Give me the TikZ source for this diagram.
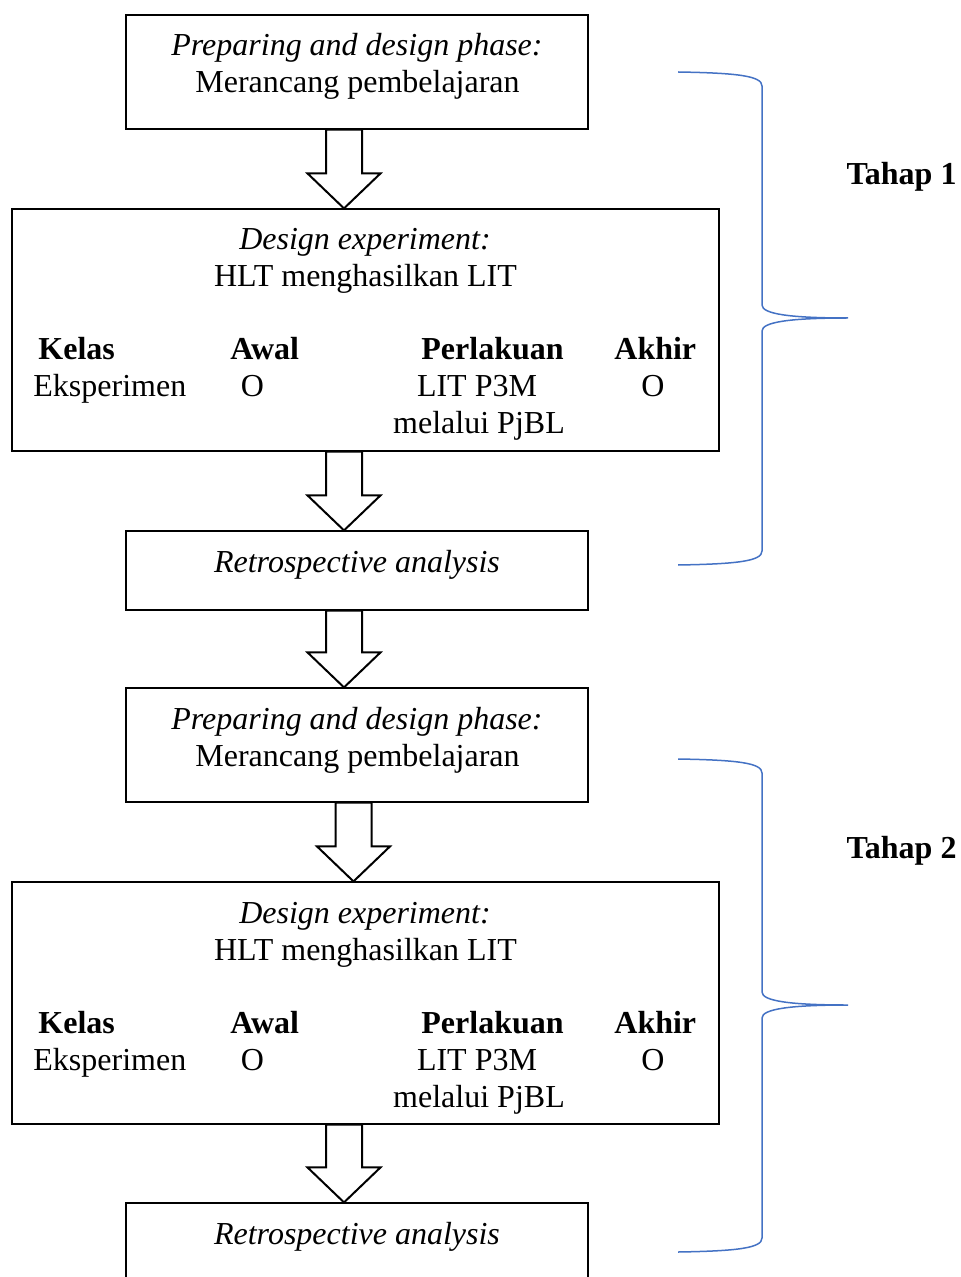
\documentclass[tikz,border=0pt]{standalone}
\usepackage{fontspec}
\setmainfont{Liberation Serif}
\usetikzlibrary{calc}
\definecolor{braceblue}{HTML}{4472C4}
\newcommand\blockarrow[3]{% #1 centre coordinate, #2 upper node, #3 lower node
  \draw[barrow] ($(#1|-#2.south)+(-18,0)$) -- ($(#1|-#3.north)+(-18,-35)$)
    -- ($(#1|-#3.north)+(-36.5,-35)$) -- (#1|-#3.north)
    -- ($(#1|-#3.north)+(36.5,-35)$) -- ($(#1|-#3.north)+(18,-35)$)
    -- ($(#1|-#2.south)+(18,0)$) -- cycle;}
\begin{document}
\begin{tikzpicture}[x=0.5pt,y=-0.5pt,
  font=\fontsize{16pt}{18.5pt}\selectfont,
  box/.style={draw, line width=0.6pt, inner sep=0pt},
  txt/.style={inner sep=0pt, anchor=base},
  txtl/.style={inner sep=0pt, anchor=base west},
  barrow/.style={draw, fill=white, line width=1pt, line join=miter},
  bracestyle/.style={draw=braceblue, line width=0.75pt},
  tbrace/.pic={\draw[bracestyle] (678,72) .. controls (738,73) and (762,76) .. (762,86)
      -- (762,305) .. controls (762,314) and (790,318) .. (848,318)
      .. controls (790,318) and (762,322) .. (762,331)
      -- (762,551) .. controls (762,561) and (738,564) .. (678,565);}]
\useasboundingbox (0,0) rectangle (961,1277);

% boxes
\node[box, minimum width=231pt, minimum height=57pt] (b1) at (357,72) {};
\node[box, minimum width=353.5pt, minimum height=121pt] (b2) at (365.5,330) {};
\node[box, minimum width=231pt, minimum height=39.5pt] (b3) at (357,570.5) {};
\node[box, minimum width=231pt, minimum height=57pt] (b4) at (357,745) {};
\node[box, minimum width=353.5pt, minimum height=121pt] (b5) at (365.5,1003) {};
\node[box, minimum width=231pt, minimum height=43.5pt] (b6) at (357,1246.5) {};

% arrow centres
\coordinate (a1) at (344,0);
\coordinate (a2) at (344,0);
\coordinate (a3) at (344,0);
\coordinate (a4) at (353.5,0);
\coordinate (a5) at (344,0);
\blockarrow{a1}{b1}{b2}
\blockarrow{a2}{b2}{b3}
\blockarrow{a3}{b3}{b4}
\blockarrow{a4}{b4}{b5}
\blockarrow{a5}{b5}{b6}

% texts stage 1
\node[txt] (t1a) at (357,56) {\itshape Preparing and design phase:};
\node[txt] (t1b) at (357.5,93) {Merancang pembelajaran};
\node[txt] (t2a) at (365,250) {\itshape Design experiment:};
\node[txt] (t2b) at (365.5,287) {HLT menghasilkan LIT};
\node[txtl] (k1) at (38,360) {\bfseries Kelas};
\node[txtl] (w1) at (230,360) {\bfseries Awal};
\node[txtl] (p1) at (421,360) {\bfseries Perlakuan};
\node[txtl] (h1) at (614,360) {\bfseries Akhir};
\node[txtl] (e1) at (33,397) {Eksperimen};
\node[txt] (o1) at (252.5,397) {O};
\node[txt] (l1) at (477,397) {LIT P3M};
\node[txt] (o1b) at (653,397) {O};
\node[txt] (m1) at (479,434) {melalui PjBL};
\node[txt] (r1) at (357,572) {\itshape Retrospective analysis};

% texts stage 2
\node[txt] (t4a) at (357,729) {\itshape Preparing and design phase:};
\node[txt] (t4b) at (357.5,766) {Merancang pembelajaran};
\node[txt] (t5a) at (365,923) {\itshape Design experiment:};
\node[txt] (t5b) at (365.5,960) {HLT menghasilkan LIT};
\node[txtl] (k2) at (38,1033) {\bfseries Kelas};
\node[txtl] (w2) at (230,1033) {\bfseries Awal};
\node[txtl] (p2) at (421,1033) {\bfseries Perlakuan};
\node[txtl] (h2) at (614,1033) {\bfseries Akhir};
\node[txtl] (e2) at (33,1070) {Eksperimen};
\node[txt] (o2) at (252.5,1070) {O};
\node[txt] (l2) at (477,1070) {LIT P3M};
\node[txt] (o2b) at (653,1070) {O};
\node[txt] (m2) at (479,1107) {melalui PjBL};
\node[txt] (r2) at (357,1244) {\itshape Retrospective analysis};

% braces and stage labels
\pic at (0,0) {tbrace};
\pic at (0,687) {tbrace};
\node[txt] (s1) at (901.5,185) {\bfseries Tahap 1};
\node[txt] (s2) at (901.5,858) {\bfseries Tahap 2};
\end{tikzpicture}
\end{document}
